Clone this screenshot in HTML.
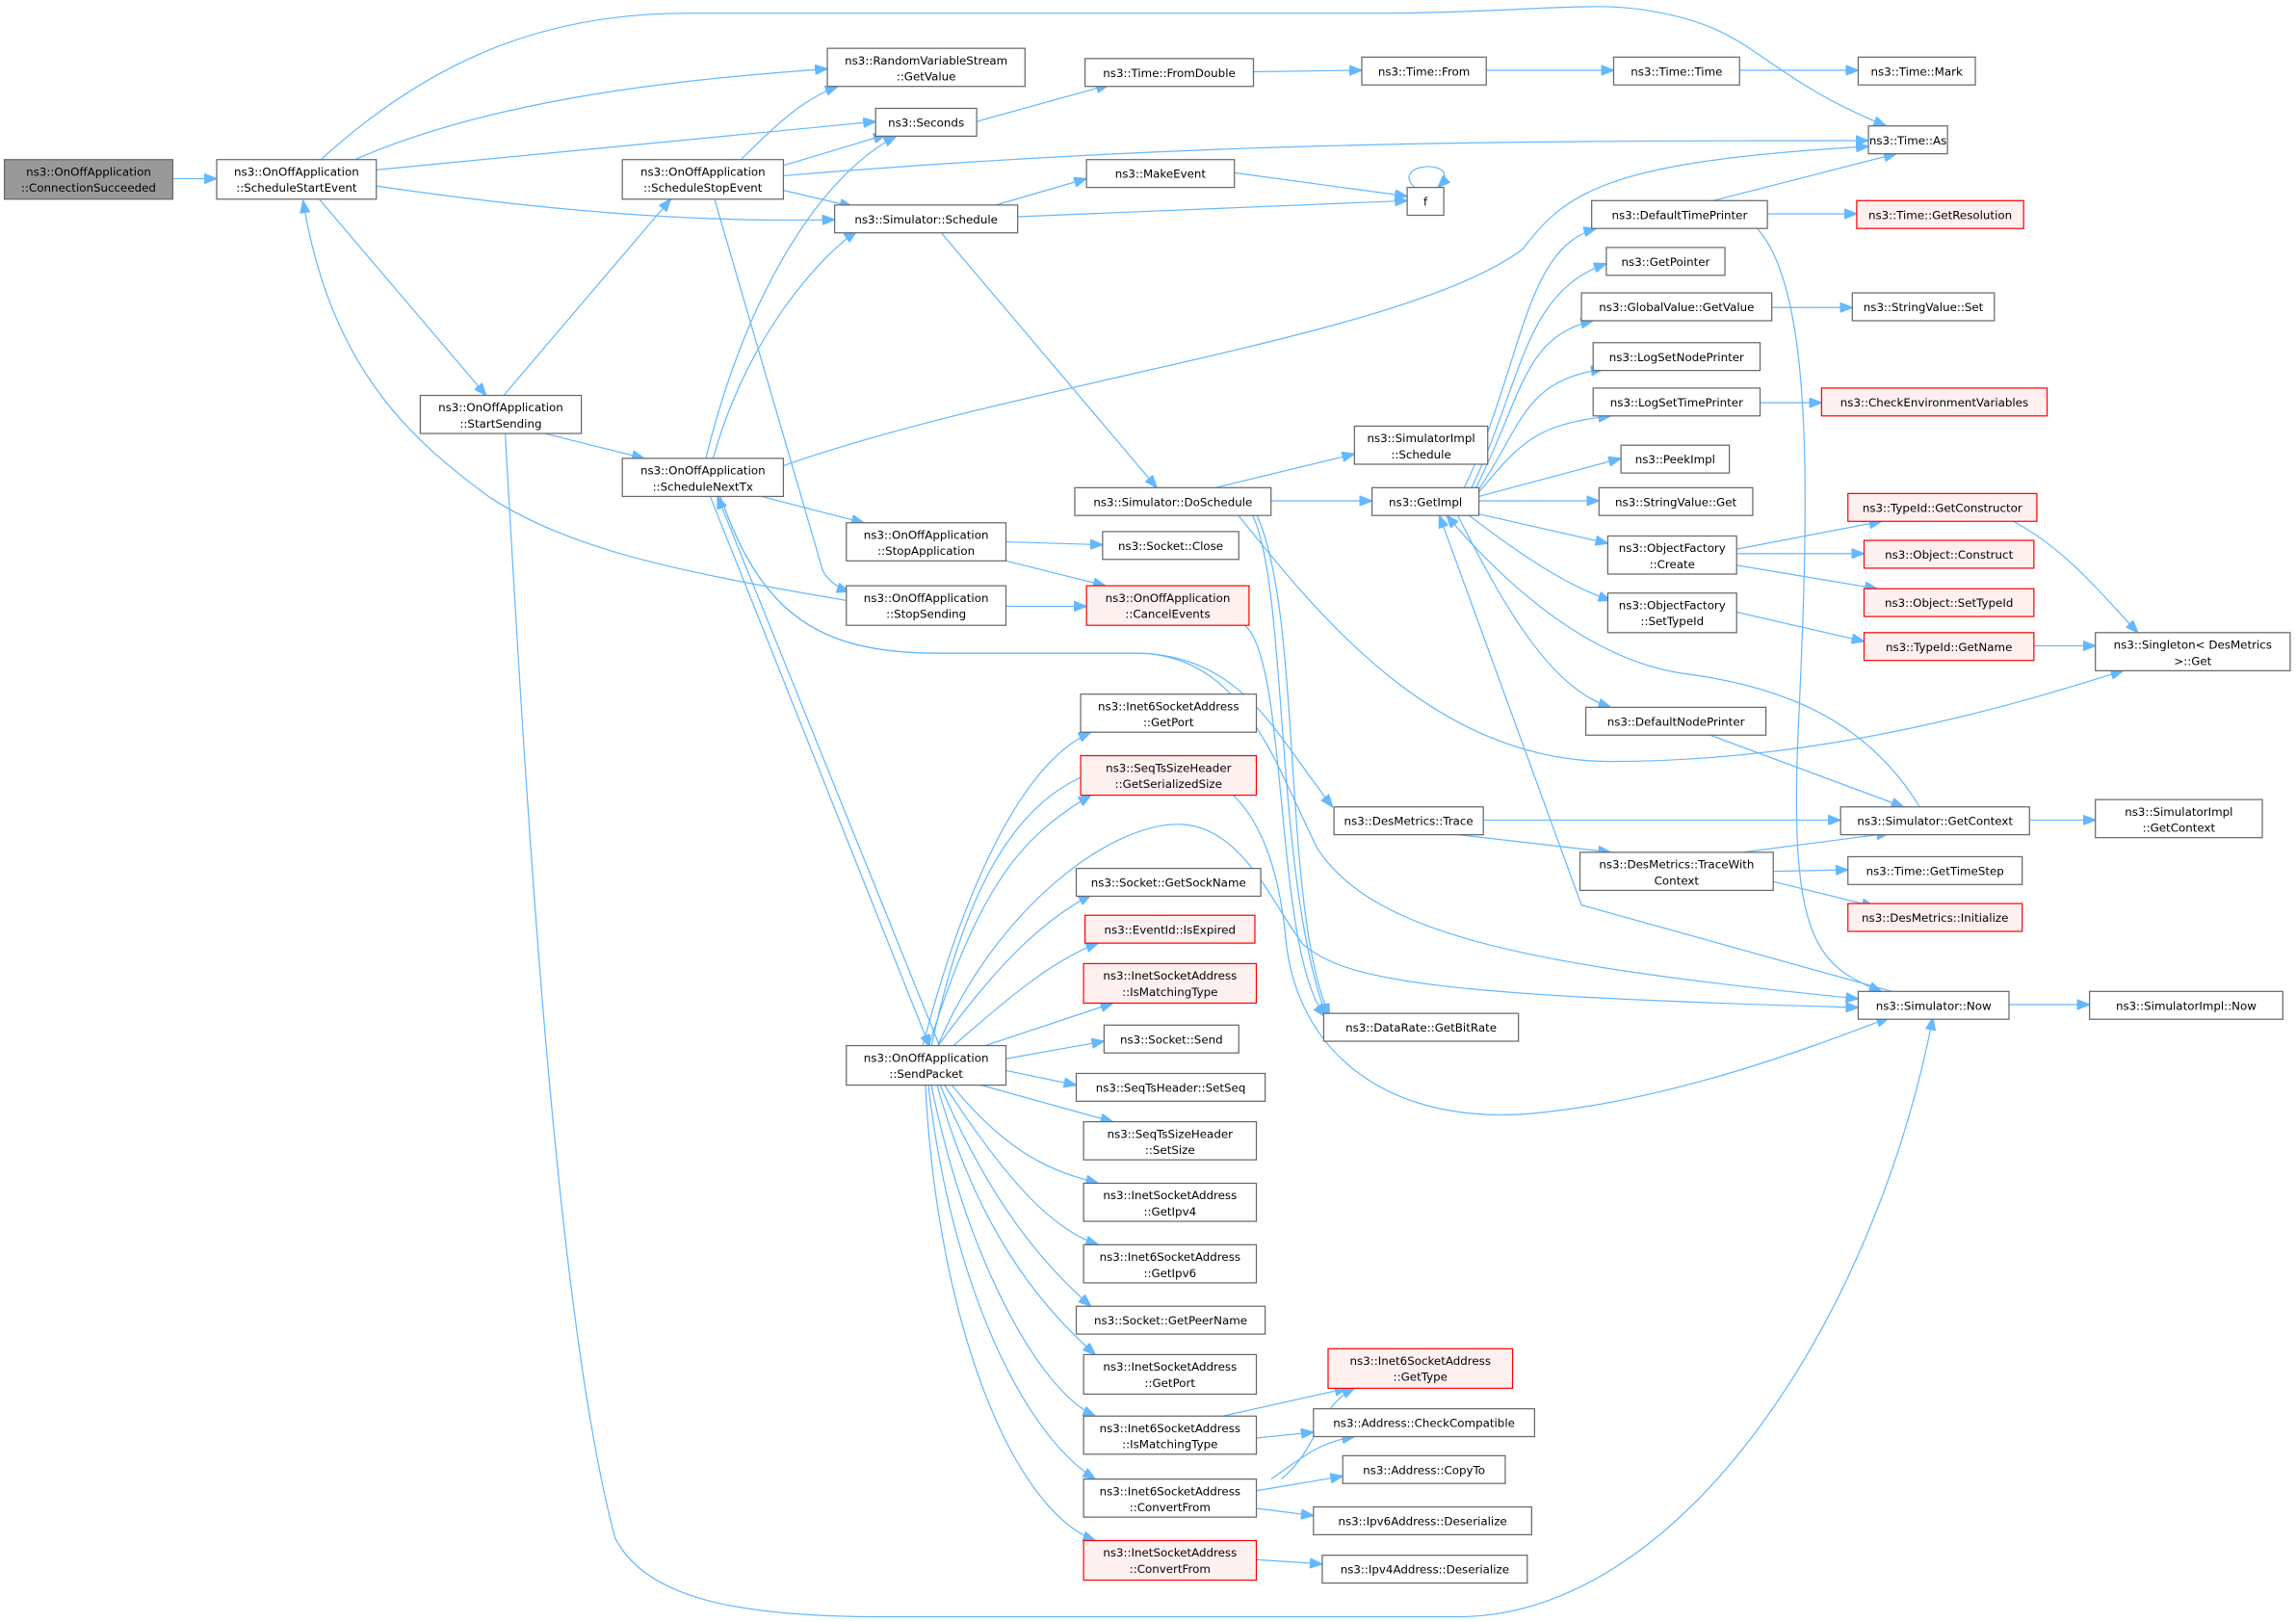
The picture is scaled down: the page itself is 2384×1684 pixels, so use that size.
<!DOCTYPE html>
<html><head><meta charset="utf-8"><style>
html,body{margin:0;padding:0;background:#fff;}
svg{display:block;}
text{font-family:"DejaVu Sans","Liberation Sans",sans-serif;font-size:7.8px;fill:#000;text-anchor:middle;}
.n{fill:#fff;stroke:#666;stroke-width:0.8;}
.r{fill:#fff0f0;stroke:#f00;stroke-width:0.8;}
.g{fill:#999;stroke:#666;stroke-width:0.8;}
.e{fill:none;stroke:#63b8ff;stroke-width:0.8;marker-end:url(#a);}
</style></head><body>
<svg width="2384" height="1684" viewBox="0 0 1568 1107.6" xmlns="http://www.w3.org/2000/svg">
<defs><marker id="a" markerUnits="userSpaceOnUse" markerWidth="9" markerHeight="7" refX="8.5" refY="3.5" orient="auto"><path d="M0,0 L9,3.5 L0,7 z" fill="#63b8ff" stroke="#63b8ff" stroke-width="0.5"/></marker></defs>
<g>
<path class="e" d="M118,122 L148,122"/>
<path class="e" d="M218,110 C300,35 380,9 470,9 L950,9 C1050,8 1090,0 1130,8 C1200,20 1200,50 1288,86"/>
<path class="e" d="M240,110 C330,70 450,55 565,47"/>
<path class="e" d="M257,116 L598,83"/>
<path class="e" d="M257,127 C380,145 480,152 570,150"/>
<path class="e" d="M218,136 L332,270"/>
<path class="e" d="M344,270 L458,136"/>
<path class="e" d="M372,296 L440,313"/>
<path class="e" d="M345,296 C360,560 380,900 420,1050 C440,1090 500,1104 600,1104 L1000,1104 C1150,1100 1280,900 1320,695"/>
<path class="e" d="M505,110 C530,85 548,68 572,59"/>
<path class="e" d="M535,113 L605,92"/>
<path class="e" d="M535,120 C800,98 1000,96 1276,96"/>
<path class="e" d="M535,130 L582,141"/>
<path class="e" d="M488,136 L562,390 Q568,400 580,404"/>
<path class="e" d="M482,313 C510,200 560,120 612,93"/>
<path class="e" d="M487,313 C510,230 560,175 585,158"/>
<path class="e" d="M535,318 C700,260 960,230 1040,170 C1070,130 1100,110 1276,100"/>
<path class="e" d="M520,339 L590,357"/>
<path class="e" d="M485,339 L635,715"/>
<path class="e" d="M642,715 L490,339"/>
<path class="e" d="M492,339 C520,420 560,446 640,446 L780,446 C850,450 870,500 910,551"/>
<path class="e" d="M492,339 C520,420 560,446 640,446 L780,446 C850,450 870,520 900,580 C940,640 1050,660 1269,682"/>
<path class="e" d="M687,370 L753,372"/>
<path class="e" d="M687,383 L755,400"/>
<path class="e" d="M578,410 C460,390 390,375 335,340 C280,300 225,250 207,137"/>
<path class="e" d="M687,414 L742,414"/>
<path class="e" d="M830,333 L925,310"/>
<path class="e" d="M868,342 L937,342"/>
<path class="e" d="M845,351 C900,420 980,520 1100,520 C1250,520 1380,480 1450,458"/>
<path class="e" d="M855,351 C880,400 870,600 906,694"/>
<path class="e" d="M858,351 C890,420 875,620 908,694"/>
<path class="e" d="M850,427 C880,450 870,650 905,694"/>
<path class="e" d="M680,140 L742,122"/>
<path class="e" d="M695,148 L961,137"/>
<path class="e" d="M843,118 L961,134"/>
<path class="e" d="M966,128 C948,110 1002,108 982,128"/>
<path class="e" d="M642,158 L790,333"/>
<path class="e" d="M856,49 L930,48"/>
<path class="e" d="M1015,48 L1102,48"/>
<path class="e" d="M1188,48 L1269,48"/>
<path class="e" d="M667,83 L757,58"/>
<path class="e" d="M1170,137 L1295,105"/>
<path class="e" d="M1207,146 L1268,146"/>
<path class="e" d="M1200,156 C1240,200 1235,350 1228,500 C1222,640 1240,660 1285,677"/>
<path class="e" d="M1000,333 C1040,250 1040,170 1090,156"/>
<path class="e" d="M1005,333 C1040,260 1040,200 1097,180"/>
<path class="e" d="M1008,333 C1040,270 1040,230 1088,219"/>
<path class="e" d="M1010,334 C1040,290 1040,260 1095,252"/>
<path class="e" d="M1010,336 C1040,300 1050,290 1100,284"/>
<path class="e" d="M1010,339 L1107,313"/>
<path class="e" d="M1010,342 L1092,342"/>
<path class="e" d="M1010,351 L1098,371"/>
<path class="e" d="M1002,351 C1040,380 1070,400 1100,410"/>
<path class="e" d="M995,351 C1030,420 1060,470 1100,483"/>
<path class="e" d="M1210,210 L1265,210"/>
<path class="e" d="M1202,275 L1244,275"/>
<path class="e" d="M1186,375 L1285,356"/>
<path class="e" d="M1186,378 L1273,378"/>
<path class="e" d="M1186,386 L1282,402"/>
<path class="e" d="M1186,418 L1273,438"/>
<path class="e" d="M1389,441 L1431,441"/>
<path class="e" d="M1375,356 C1410,375 1430,400 1460,432"/>
<path class="e" d="M1168,502 L1300,551"/>
<path class="e" d="M1311,551 C1280,500 1230,470 1150,460 C1080,450 1020,390 988,352"/>
<path class="e" d="M1386,560 L1431,560"/>
<path class="e" d="M1013,560 L1257,560"/>
<path class="e" d="M987,569 L1100,582"/>
<path class="e" d="M1190,582 L1290,569"/>
<path class="e" d="M1211,595 L1262,594"/>
<path class="e" d="M1211,602 L1280,619"/>
<path class="e" d="M1292,677 L1080,618 L983,352"/>
<path class="e" d="M1372,686 L1427,686"/>
<path class="e" d="M630,715 C660,600 700,520 745,500"/>
<path class="e" d="M634,715 C670,600 700,570 745,543"/>
<path class="e" d="M640,715 C680,660 710,630 745,611"/>
<path class="e" d="M650,715 C690,680 720,655 750,644"/>
<path class="e" d="M670,715 L760,685"/>
<path class="e" d="M687,723 L754,711"/>
<path class="e" d="M687,731 L735,741"/>
<path class="e" d="M670,741 L760,766"/>
<path class="e" d="M650,741 C690,790 720,800 750,808"/>
<path class="e" d="M645,741 C690,810 720,840 750,850"/>
<path class="e" d="M642,741 C680,830 720,870 745,892"/>
<path class="e" d="M640,741 C670,850 720,900 748,925"/>
<path class="e" d="M636,741 C660,860 710,950 748,967"/>
<path class="e" d="M634,741 C650,880 700,980 748,1010"/>
<path class="e" d="M632,741 C640,900 690,1030 748,1052"/>
<path class="e" d="M640,715 C680,620 760,560 808,563 C850,566 870,620 890,645 C920,670 980,680 1269,688"/>
<path class="e" d="M636,715 C660,600 700,530 770,522 C840,515 870,560 878,640 C885,720 950,770 1050,760 C1150,750 1250,710 1290,695"/>
<path class="e" d="M835,967 L920,948"/>
<path class="e" d="M858,982 L897,978"/>
<path class="e" d="M875,1010 C900,990 900,960 925,948"/>
<path class="e" d="M868,1010 C890,995 900,985 925,981"/>
<path class="e" d="M858,1018 L917,1008"/>
<path class="e" d="M858,1030 L897,1035"/>
<path class="e" d="M858,1065 L903,1068"/>
</g>
<g>
<rect class="g" x="3" y="109" width="115" height="27"/><text x="60.5" y="120">ns3::OnOffApplication</text><text x="60.5" y="131">::ConnectionSucceeded</text>
<rect class="n" x="148" y="109" width="109" height="27"/><text x="202.5" y="120">ns3::OnOffApplication</text><text x="202.5" y="131">::ScheduleStartEvent</text>
<rect class="n" x="565" y="33" width="135" height="26"/><text x="632.5" y="44">ns3::RandomVariableStream</text><text x="632.5" y="55">::GetValue</text>
<rect class="n" x="598" y="74" width="69" height="19"/><text x="632.5" y="86.5">ns3::Seconds</text>
<rect class="n" x="425" y="109" width="110" height="27"/><text x="480" y="120">ns3::OnOffApplication</text><text x="480" y="131">::ScheduleStopEvent</text>
<rect class="n" x="570" y="140" width="125" height="19"/><text x="632.5" y="152.5">ns3::Simulator::Schedule</text>
<rect class="n" x="287" y="270" width="110" height="26"/><text x="342" y="281">ns3::OnOffApplication</text><text x="342" y="292">::StartSending</text>
<rect class="n" x="425" y="313" width="110" height="26"/><text x="480" y="324">ns3::OnOffApplication</text><text x="480" y="335">::ScheduleNextTx</text>
<rect class="n" x="741" y="40" width="115" height="19"/><text x="798.5" y="52.5">ns3::Time::FromDouble</text>
<rect class="n" x="930" y="39" width="85" height="19"/><text x="972.5" y="51.5">ns3::Time::From</text>
<rect class="n" x="1102" y="39" width="86" height="19"/><text x="1145" y="51.5">ns3::Time::Time</text>
<rect class="n" x="1269" y="39" width="80" height="19"/><text x="1309" y="51.5">ns3::Time::Mark</text>
<rect class="n" x="1276" y="86" width="54" height="19"/><text x="1303" y="98.5">ns3::Time::As</text>
<rect class="n" x="742" y="109" width="101" height="19"/><text x="792.5" y="121.5">ns3::MakeEvent</text>
<rect class="n" x="961" y="128" width="25" height="19"/><text x="973.5" y="140.5">f</text>
<rect class="n" x="1087" y="137" width="120" height="19"/><text x="1147" y="149.5">ns3::DefaultTimePrinter</text>
<rect class="r" x="1268" y="137" width="114" height="19"/><text x="1325" y="149.5">ns3::Time::GetResolution</text>
<rect class="n" x="1097" y="169" width="81" height="19"/><text x="1137.5" y="181.5">ns3::GetPointer</text>
<rect class="n" x="1080" y="200" width="130" height="19"/><text x="1145" y="212.5">ns3::GlobalValue::GetValue</text>
<rect class="n" x="1265" y="200" width="97" height="19"/><text x="1313.5" y="212.5">ns3::StringValue::Set</text>
<rect class="n" x="1088" y="234" width="114" height="19"/><text x="1145" y="246.5">ns3::LogSetNodePrinter</text>
<rect class="n" x="1088" y="265" width="114" height="19"/><text x="1145" y="277.5">ns3::LogSetTimePrinter</text>
<rect class="r" x="1244" y="265" width="154" height="19"/><text x="1321" y="277.5">ns3::CheckEnvironmentVariables</text>
<rect class="n" x="925" y="291" width="91" height="26"/><text x="970.5" y="302">ns3::SimulatorImpl</text><text x="970.5" y="313">::Schedule</text>
<rect class="n" x="1107" y="304" width="74" height="19"/><text x="1144" y="316.5">ns3::PeekImpl</text>
<rect class="n" x="1092" y="333" width="105" height="19"/><text x="1144.5" y="345.5">ns3::StringValue::Get</text>
<rect class="n" x="734" y="333" width="134" height="19"/><text x="801" y="345.5">ns3::Simulator::DoSchedule</text>
<rect class="n" x="937" y="333" width="73" height="19"/><text x="973.5" y="345.5">ns3::GetImpl</text>
<rect class="r" x="1262" y="337" width="129" height="19"/><text x="1326.5" y="349.5">ns3::TypeId::GetConstructor</text>
<rect class="n" x="1098" y="366" width="88" height="26"/><text x="1142" y="377">ns3::ObjectFactory</text><text x="1142" y="388">::Create</text>
<rect class="r" x="1273" y="369" width="116" height="19"/><text x="1331" y="381.5">ns3::Object::Construct</text>
<rect class="r" x="1273" y="402" width="116" height="19"/><text x="1331" y="414.5">ns3::Object::SetTypeId</text>
<rect class="n" x="1098" y="405" width="88" height="27"/><text x="1142" y="416">ns3::ObjectFactory</text><text x="1142" y="427">::SetTypeId</text>
<rect class="r" x="1273" y="432" width="116" height="19"/><text x="1331" y="444.5">ns3::TypeId::GetName</text>
<rect class="n" x="1431" y="432" width="133" height="26"/><text x="1497.5" y="443">ns3::Singleton&lt; DesMetrics</text><text x="1497.5" y="454">&gt;::Get</text>
<rect class="n" x="578" y="357" width="109" height="26"/><text x="632.5" y="368">ns3::OnOffApplication</text><text x="632.5" y="379">::StopApplication</text>
<rect class="n" x="753" y="363" width="93" height="19"/><text x="799.5" y="375.5">ns3::Socket::Close</text>
<rect class="n" x="578" y="400" width="109" height="27"/><text x="632.5" y="411">ns3::OnOffApplication</text><text x="632.5" y="422">::StopSending</text>
<rect class="r" x="742" y="400" width="111" height="27"/><text x="797.5" y="411">ns3::OnOffApplication</text><text x="797.5" y="422">::CancelEvents</text>
<rect class="n" x="1083" y="483" width="123" height="19"/><text x="1144.5" y="495.5">ns3::DefaultNodePrinter</text>
<rect class="n" x="738" y="474" width="120" height="26"/><text x="798" y="485">ns3::Inet6SocketAddress</text><text x="798" y="496">::GetPort</text>
<rect class="r" x="738" y="516" width="120" height="27"/><text x="798" y="527">ns3::SeqTsSizeHeader</text><text x="798" y="538">::GetSerializedSize</text>
<rect class="n" x="911" y="551" width="102" height="19"/><text x="962" y="563.5">ns3::DesMetrics::Trace</text>
<rect class="n" x="1257" y="551" width="129" height="19"/><text x="1321.5" y="563.5">ns3::Simulator::GetContext</text>
<rect class="n" x="1431" y="546" width="114" height="26"/><text x="1488" y="557">ns3::SimulatorImpl</text><text x="1488" y="568">::GetContext</text>
<rect class="n" x="735" y="593" width="126" height="19"/><text x="798" y="605.5">ns3::Socket::GetSockName</text>
<rect class="n" x="1079" y="582" width="132" height="26"/><text x="1145" y="593">ns3::DesMetrics::TraceWith</text><text x="1145" y="604">Context</text>
<rect class="r" x="741" y="625" width="116" height="19"/><text x="799" y="637.5">ns3::EventId::IsExpired</text>
<rect class="n" x="1262" y="585" width="119" height="19"/><text x="1321.5" y="597.5">ns3::Time::GetTimeStep</text>
<rect class="r" x="1262" y="617" width="119" height="19"/><text x="1321.5" y="629.5">ns3::DesMetrics::Initialize</text>
<rect class="r" x="740" y="658" width="118" height="27"/><text x="799" y="669">ns3::InetSocketAddress</text><text x="799" y="680">::IsMatchingType</text>
<rect class="n" x="1269" y="677" width="103" height="19"/><text x="1320.5" y="689.5">ns3::Simulator::Now</text>
<rect class="n" x="1427" y="677" width="132" height="19"/><text x="1493" y="689.5">ns3::SimulatorImpl::Now</text>
<rect class="n" x="904" y="692" width="133" height="19"/><text x="970.5" y="704.5">ns3::DataRate::GetBitRate</text>
<rect class="n" x="754" y="700" width="92" height="19"/><text x="800" y="712.5">ns3::Socket::Send</text>
<rect class="n" x="578" y="714" width="109" height="27"/><text x="632.5" y="725">ns3::OnOffApplication</text><text x="632.5" y="736">::SendPacket</text>
<rect class="n" x="735" y="733" width="129" height="19"/><text x="799.5" y="745.5">ns3::SeqTsHeader::SetSeq</text>
<rect class="n" x="740" y="766" width="118" height="26"/><text x="799" y="777">ns3::SeqTsSizeHeader</text><text x="799" y="788">::SetSize</text>
<rect class="n" x="740" y="808" width="118" height="26"/><text x="799" y="819">ns3::InetSocketAddress</text><text x="799" y="830">::GetIpv4</text>
<rect class="n" x="740" y="850" width="118" height="26"/><text x="799" y="861">ns3::Inet6SocketAddress</text><text x="799" y="872">::GetIpv6</text>
<rect class="n" x="735" y="892" width="129" height="19"/><text x="799.5" y="904.5">ns3::Socket::GetPeerName</text>
<rect class="n" x="740" y="925" width="118" height="27"/><text x="799" y="936">ns3::InetSocketAddress</text><text x="799" y="947">::GetPort</text>
<rect class="r" x="907" y="921" width="126" height="27"/><text x="970" y="932">ns3::Inet6SocketAddress</text><text x="970" y="943">::GetType</text>
<rect class="n" x="740" y="967" width="118" height="26"/><text x="799" y="978">ns3::Inet6SocketAddress</text><text x="799" y="989">::IsMatchingType</text>
<rect class="n" x="897" y="962" width="151" height="19"/><text x="972.5" y="974.5">ns3::Address::CheckCompatible</text>
<rect class="n" x="917" y="994" width="111" height="19"/><text x="972.5" y="1006.5">ns3::Address::CopyTo</text>
<rect class="n" x="740" y="1010" width="118" height="26"/><text x="799" y="1021">ns3::Inet6SocketAddress</text><text x="799" y="1032">::ConvertFrom</text>
<rect class="n" x="897" y="1029" width="149" height="19"/><text x="971.5" y="1041.5">ns3::Ipv6Address::Deserialize</text>
<rect class="r" x="740" y="1052" width="118" height="27"/><text x="799" y="1063">ns3::InetSocketAddress</text><text x="799" y="1074">::ConvertFrom</text>
<rect class="n" x="903" y="1062" width="140" height="19"/><text x="973" y="1074.5">ns3::Ipv4Address::Deserialize</text>
</g>
</svg>
</body></html>
